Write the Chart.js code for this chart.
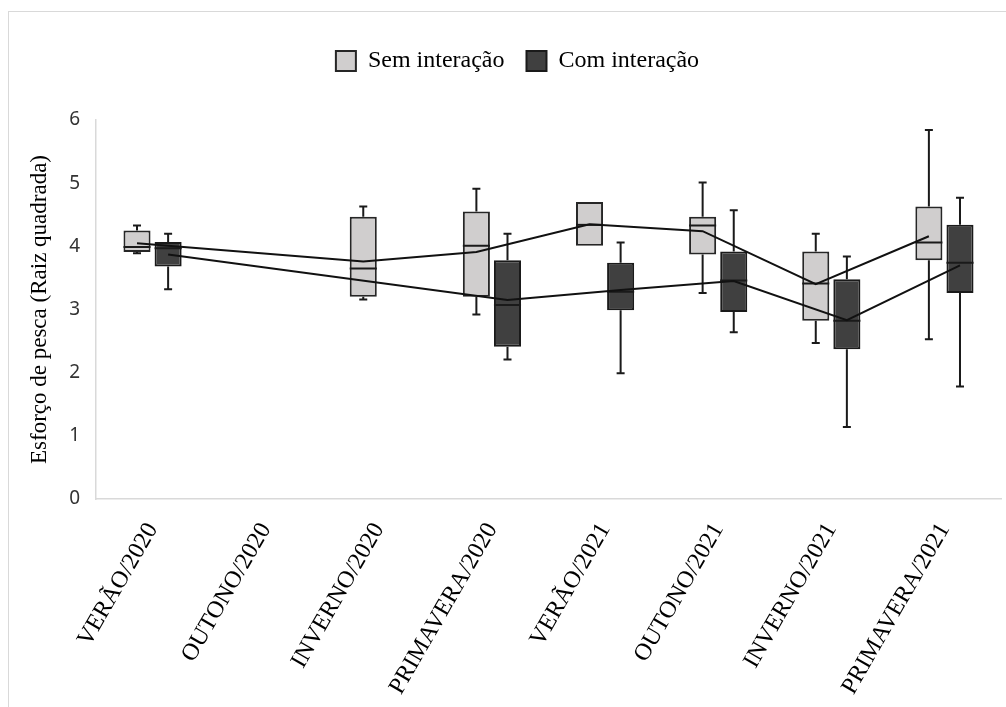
<!DOCTYPE html>
<html lang="pt">
<head>
<meta charset="UTF-8">
<title>Esforço de pesca</title>
<script src="https://cdn.jsdelivr.net/npm/chart.js"></script>
<style>
  html, body { margin: 0; padding: 0; background: #fff; overflow: hidden; }
  #frame { position: absolute; left: 8px; top: 11px; width: 1100px; height: 800px; border: 1px solid #d9d9d9; }
  #chart { position: absolute; left: 0; top: 0; }
</style>
</head>
<body>
<div id="frame"></div>
<canvas id="chart" width="1006" height="707"></canvas>
<script>
const categories = ['VERÃO/2020', 'OUTONO/2020', 'INVERNO/2020', 'PRIMAVERA/2020',
                    'VERÃO/2021', 'OUTONO/2021', 'INVERNO/2021', 'PRIMAVERA/2021'];
const yTicks = [0, 1, 2, 3, 4, 5, 6];

// Sem interação
const semMin    = [3.89, null, 3.16, 2.92, 4.01, 3.26, 2.47, 2.53];
const semQ1     = [3.91, null, 3.20, 3.20, 4.01, 3.87, 2.82, 3.78];
const semMedian = [3.99, null, 3.65, 4.01, 4.34, 4.33, 3.41, 4.06];
const semQ3     = [4.25, null, 4.47, 4.55, 4.70, 4.47, 3.92, 4.63];
const semMax    = [4.33, null, 4.63, 4.91, 4.70, 5.01, 4.20, 5.84];
const semMean   = [4.05, null, 3.76, 3.91, 4.35, 4.24, 3.40, 4.16];

// Com interação
const comMin    = [3.32, null, null, 2.21, 1.99, 2.64, 1.14, 1.78];
const comQ1     = [3.68, null, null, 2.41, 2.99, 2.96, 2.37, 3.26];
const comMedian = [3.97, null, null, 3.07, 3.28, 3.46, 2.82, 3.74];
const comQ3     = [4.07, null, null, 3.78, 3.74, 3.92, 3.48, 4.34];
const comMax    = [4.20, null, null, 4.20, 4.06, 4.57, 3.84, 4.77];
const comMean   = [3.87, null, null, 3.15, 3.31, 3.45, 2.83, 3.70];

const series = [
  { label: 'Sem interação', min: semMin, q1: semQ1, median: semMedian, q3: semQ3, max: semMax, mean: semMean },
  { label: 'Com interação', min: comMin, q1: comQ1, median: comMedian, q3: comQ3, max: comMax, mean: comMean }
];

const toBoxes = s => s.q1.map((v, i) => v == null ? null : [v, s.q3[i]]);

// extra room under the legend, so the plot starts lower like the original
const legendGap = {
  id: 'legendGap',
  beforeUpdate(chart) {
    const lg = chart.legend;
    if (lg && !lg._gapPatched) {
      const fit = lg.fit.bind(lg);
      lg.fit = function () { fit(); this.height += 37; };
      lg._gapPatched = true;
    }
  }
};

// whiskers, medians and mean lines, drawn from the bar elements and the y scale
const boxExtras = {
  id: 'boxExtras',
  afterDatasetsDraw(chart) {
    const ctx = chart.ctx;
    const y = chart.scales.y;
    ctx.save();
    ctx.strokeStyle = '#1a1a1a';
    series.forEach((s, di) => {
      const meta = chart.getDatasetMeta(di);
      ctx.lineWidth = 2;
      meta.data.forEach((bar, i) => {
        if (s.median[i] == null) return;
        const x = bar.x, half = bar.width / 2, cap = 4;
        const yq1 = y.getPixelForValue(s.q1[i]), yq3 = y.getPixelForValue(s.q3[i]);
        const ymin = y.getPixelForValue(s.min[i]), ymax = y.getPixelForValue(s.max[i]);
        const ymed = y.getPixelForValue(s.median[i]);
        ctx.beginPath();
        if (ymax < yq3 - 0.5) {
          ctx.moveTo(x, yq3); ctx.lineTo(x, ymax);
          ctx.moveTo(x - cap, ymax); ctx.lineTo(x + cap, ymax);
        }
        if (ymin > yq1 + 0.5) {
          ctx.moveTo(x, yq1); ctx.lineTo(x, ymin);
          ctx.moveTo(x - cap, ymin); ctx.lineTo(x + cap, ymin);
        }
        ctx.moveTo(x - half, ymed); ctx.lineTo(x + half, ymed);
        ctx.stroke();
      });
    });
    ctx.lineWidth = 2;
    ctx.strokeStyle = '#111';
    series.forEach((s, di) => {
      const meta = chart.getDatasetMeta(di);
      ctx.beginPath();
      let started = false;
      meta.data.forEach((bar, i) => {
        if (s.mean[i] == null) return;
        const py = y.getPixelForValue(s.mean[i]);
        if (!started) { ctx.moveTo(bar.x, py); started = true; } else ctx.lineTo(bar.x, py);
      });
      ctx.stroke();
    });
    ctx.restore();
  }
};

new Chart(document.getElementById('chart'), {
  type: 'bar',
  data: {
    labels: categories,
    datasets: [
      {
        label: series[0].label,
        data: toBoxes(series[0]),
        backgroundColor: '#d0cece',
        borderColor: '#262626',
        borderWidth: 2,
        borderSkipped: false
      },
      {
        label: series[1].label,
        data: toBoxes(series[1]),
        backgroundColor: '#404040',
        borderColor: '#1a1a1a',
        borderWidth: 2,
        borderSkipped: false
      }
    ]
  },
  options: {
    responsive: false,
    animation: false,
    categoryPercentage: 0.55,
    barPercentage: 0.87,
    layout: { padding: { left: 34, right: 5, top: 27, bottom: 0 } },
    plugins: {
      legend: {
        position: 'top',
        labels: {
          boxWidth: 20,
          boxHeight: 20,
          padding: 22,
          color: '#000',
          font: { family: 'Liberation Serif', size: 24 }
        }
      },
      tooltip: { enabled: false }
    },
    scales: {
      x: {
        grid: { display: false, drawTicks: false },
        border: { display: true, color: '#d9d9d9', width: 1.5 },
        ticks: {
          autoSkip: false,
          minRotation: 60,
          maxRotation: 60,
          padding: 19,
          color: '#000',
          font: { family: 'Liberation Serif', size: 24 }
        },
        afterFit: scale => { scale.height = 707 - 499; }
      },
      y: {
        min: 0,
        max: 6,
        afterBuildTicks: scale => { scale.ticks = yTicks.map(v => ({ value: v })); },
        grid: { display: false, drawTicks: false },
        border: { display: true, color: '#d9d9d9', width: 1.5 },
        ticks: {
          padding: 16,
          color: '#333',
          font: { family: 'Noto Sans', size: 19 }
        },
        title: {
          display: true,
          text: 'Esforço de pesca (Raiz quadrada)',
          color: '#000',
          padding: { top: -8, bottom: 0 },
          font: { family: 'Liberation Serif', size: 23 }
        },
        afterFit: scale => { scale.width = 96 - 34; }
      }
    }
  },
  plugins: [legendGap, boxExtras]
});
</script>
</body>
</html>
